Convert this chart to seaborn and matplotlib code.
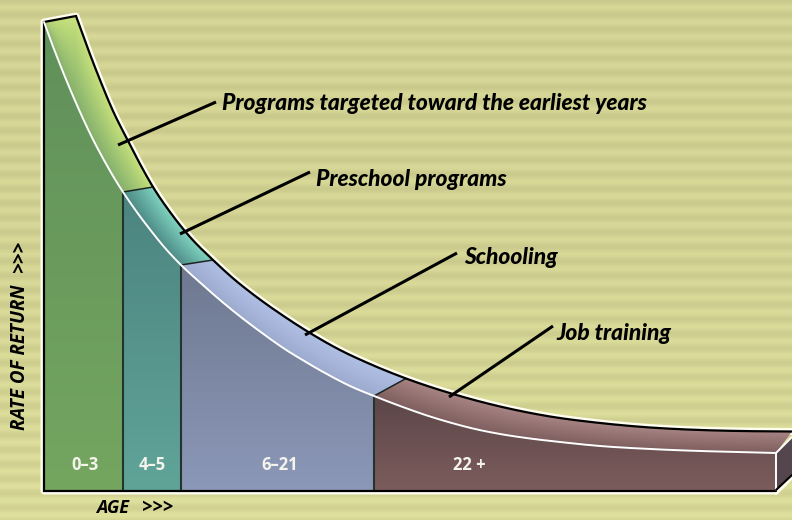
#!/usr/bin/env python3

import numpy as np
import pandas as pd
import matplotlib.pyplot as plt
from matplotlib.patches import Polygon
import seaborn as sns

# Curves (pixel scale, y grows downward)
front_age = [44, 50, 60, 70, 80, 93, 105, 113, 123, 135, 150, 165, 181, 200, 220, 237, 260, 287, 300,
             325, 350, 374, 400, 430, 450, 475, 500, 530, 560, 600, 650, 700, 740, 776]
front_return = [22, 38.5, 64.5, 89, 112, 139.5, 162, 176, 192, 209.5, 229.5, 248, 265, 282.5, 300, 314, 331.5,
                350.5, 358.5, 373, 386, 396, 406, 416.5, 422.5, 429, 434, 438.5, 442, 446, 449, 451, 452, 453]
back_age = [76, 88, 100, 113, 127, 140, 153, 170, 190, 213, 235, 250, 285, 310, 340, 370, 406, 453, 500,
            550, 600, 650, 700, 740, 792]
back_return = [16, 49, 80, 111, 139, 164, 187, 212, 237, 260, 280, 292, 317, 333, 350, 364, 378.5, 394, 406.5,
               416.5, 423, 427.5, 430, 431, 431.5]

baseline = 491
segment_starts = [44, 123, 181, 374]
segment_ends = [123, 181, 374, 776]
back_starts = [76, 153, 213, 406]
back_ends = [153, 213, 406, 792]
age_labels = ["0–3", "4–5", "6–21", "22 +"]
age_label_x = [85, 152, 280, 469]

callouts = ["Programs targeted toward the earliest years", "Preschool programs", "Schooling", "Job training"]
callout_x = [222, 316, 464, 556]
callout_y = [103, 179, 257, 333]
leader_x0 = [118, 180, 305, 449]
leader_y0 = [145, 234, 335, 397]
leader_x1 = [216, 310, 457, 553]
leader_y1 = [102, 172, 253, 326]

# colours: front top, front bottom, band inner, band outer
front_top = ["#60905a", "#4c8480", "#6e7890", "#5c4648"]
front_bottom = ["#74a660", "#60a498", "#8c98b8", "#7c5c5c"]
band_inner = ["#84b06c", "#4e8c88", "#9caace", "#7e5e5e"]
band_outer = ["#c8e27c", "#80d4c0", "#b0c0e4", "#a88484"]
stripe_light = "#dadb99"
stripe_dark = "#c9c98c"

sns.set_style("white")
plt.rcParams["font.family"] = ["Lato", "DejaVu Sans"]

fig = plt.figure(figsize=(7.92, 5.2), dpi=100)
ax = fig.add_axes([0, 0, 1, 1])


def rgb(c):
    return np.array(plt.matplotlib.colors.to_rgb(c))


def smooth(xs, ys, steps=8):
    ''' Cubic curve through the read points, only so the drawn line has no corners. '''
    xs, ys = np.array(xs, float), np.array(ys, float)
    slopes = np.gradient(ys, xs)
    out_x, out_y = [], []
    for k in range(len(xs) - 1):
        h = xs[k + 1] - xs[k]
        s = np.linspace(0, 1, steps, endpoint=False)
        y = ((2 * s**3 - 3 * s**2 + 1) * ys[k] + (s**3 - 2 * s**2 + s) * h * slopes[k]
             + (-2 * s**3 + 3 * s**2) * ys[k + 1] + (s**3 - s**2) * h * slopes[k + 1])
        out_x.extend(xs[k] + s * h)
        out_y.extend(y)
    out_x.append(xs[-1])
    out_y.append(ys[-1])
    return np.array(out_x), np.array(out_y)


def clipped_image(img, poly, zorder):
    patch = Polygon(poly, closed=True, facecolor="none", edgecolor="none", transform=ax.transData)
    ax.add_patch(patch)
    im = ax.imshow(img, extent=(0, 792, 520, 0), origin="upper", aspect="auto", zorder=zorder,
                   interpolation="bilinear")
    im.set_clip_path(patch)


front_x, front_y = smooth(front_age, front_return)
back_x, back_y = smooth(back_age, back_return)

# striped background
rows = np.arange(520)
wave = 0.5 + 0.5 * np.cos((rows - 7) * 2 * np.pi / 14.5)
glow = np.interp(rows, [0, 260, 520], [0.0, 0.1, 0.5])
bg = rgb(stripe_dark)[None, :] + (rgb(stripe_light) - rgb(stripe_dark))[None, :] * (wave * 0.8 + glow)[:, None]
ax.imshow(bg[:, None, :].clip(0, 1), extent=(0, 792, 520, 0), aspect="auto", zorder=0, interpolation="bilinear")

xx, yy = np.meshgrid(np.arange(792) + 0.5, np.arange(520) + 0.5)
yf = np.interp(xx, front_x, front_y)
yb = np.interp(xx, back_x, back_y)
across = np.clip((yf - yy) / np.maximum(yf - yb, 1), 0, 1)[..., None]

for i in range(4):
    fmask = (front_x >= segment_starts[i]) & (front_x <= segment_ends[i])
    bmask = (back_x >= back_starts[i]) & (back_x <= back_ends[i])
    fx, fy = front_x[fmask], front_y[fmask]
    bx, by = back_x[bmask], back_y[bmask]

    # front face, gradient top to bottom
    t = np.clip((yy - fy.min()) / (baseline - fy.min()), 0, 1)[..., None]
    face = rgb(front_top[i]) + (rgb(front_bottom[i]) - rgb(front_top[i])) * t
    clipped_image(face, list(zip(fx, fy)) + [(fx[-1], baseline), (fx[0], baseline)], 2)

    # top band, gradient across it
    band = rgb(band_inner[i]) + (rgb(band_outer[i]) - rgb(band_inner[i])) * across
    clipped_image(band, list(zip(fx, fy)) + list(zip(bx, by))[::-1], 2)

# side face at the right end
ax.add_patch(Polygon([(776, 453), (792, 437), (792, 475), (776, 490)], closed=True, facecolor="#54464c",
                     edgecolor="none", zorder=2))

curves = pd.DataFrame({"age": back_x, "ret": back_y})

# cream halo, then black outline
ax.plot([776, 44, 44] + list(back_x), [baseline, baseline, front_return[0]] + list(back_y), color="#fffdf0",
        lw=5, zorder=1, solid_joinstyle="round")
ax.plot([776, 792], [baseline + 1, 476], color="#fffdf0", lw=4, zorder=1)

sns.lineplot(data=curves, x="age", y="ret", color="black", lw=1.6, sort=False, estimator=None, ax=ax, zorder=4)
ax.plot([776, 44, 44, 76], [baseline, baseline, front_return[0], back_return[0]], color="black", lw=1.6,
        zorder=4, solid_joinstyle="miter")

# white curve along the front edge
front = pd.DataFrame({"age": front_x, "ret": front_y})
sns.lineplot(data=front, x="age", y="ret", color="white", lw=1.4, sort=False, estimator=None, ax=ax, zorder=4)
ax.plot([776, 776], [453, 490], color="white", lw=1.4, zorder=4)
ax.plot([776, 792], [453, 437], color="white", lw=1.4, zorder=4)
ax.plot([776, 792], [490, 475], color="black", lw=1.5, zorder=4)

# dividers
for s, b_s in zip(segment_starts[1:], back_starts[1:]):
    y_f = front_return[front_age.index(s)]
    y_b = back_return[back_age.index(b_s)]
    ax.plot([s, s], [y_f, baseline], color="#24332f", lw=1.5, zorder=3)
    ax.plot([s, b_s], [y_f, y_b], color="#1c2422", lw=1.1, zorder=3)

# leaders and labels
for i in range(4):
    ax.plot([leader_x0[i], leader_x1[i]], [leader_y0[i], leader_y1[i]], color="black", lw=2.2, zorder=5,
            solid_capstyle="butt")
    ax.text(callout_x[i], callout_y[i], callouts[i], fontsize=16.4, fontweight="black", fontstyle="italic",
            color="black", ha="left", va="center", zorder=6)
    ax.text(age_label_x[i], 465, age_labels[i], fontsize=12, fontweight="bold", color="#f4f4ec",
            family=["Open Sans", "DejaVu Sans"], ha="center", va="center", zorder=6)

axis_font = dict(fontweight="bold", fontstyle="italic", family=["Open Sans", "DejaVu Sans"], color="black", zorder=6)
ax.text(20, 357, "RATE OF RETURN", fontsize=13.5, rotation=90, ha="center", va="center", **axis_font)
ax.text(20, 256, ">>>", fontsize=14, rotation=90, ha="center", va="center", **axis_font)
ax.text(96, 508, "AGE", fontsize=13, ha="left", va="center", **axis_font)
ax.text(142, 508, ">>>", fontsize=13.5, ha="left", va="center", **axis_font)

ax.set_xlim(0, 792)
ax.set_ylim(520, 0)
ax.set_xlabel("")
ax.set_ylabel("")
ax.axis("off")

fig.savefig("out.png", dpi=100)
